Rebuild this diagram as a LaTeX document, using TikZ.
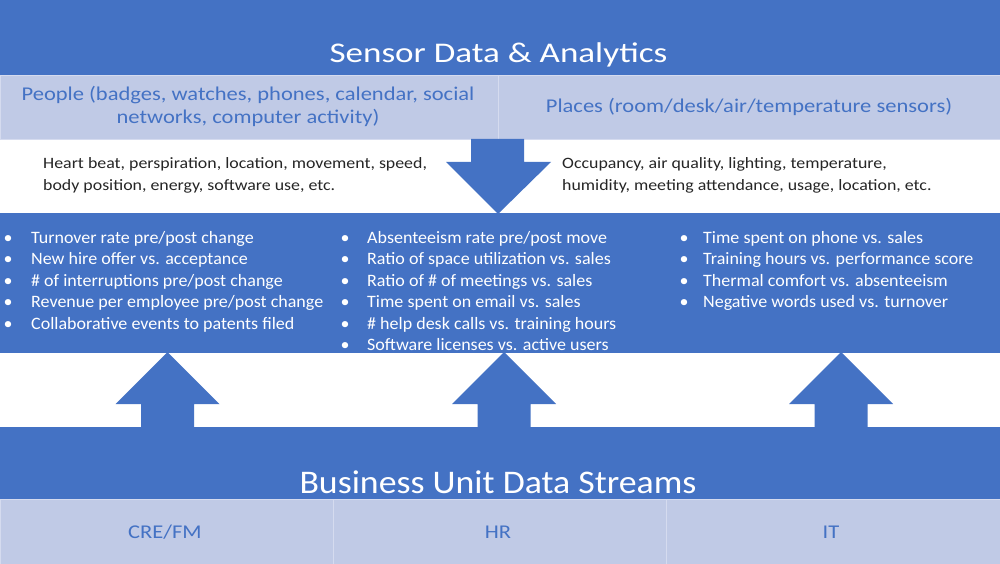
\documentclass[tikz,border=0pt]{standalone}
\usepackage{fontspec}
\setmainfont{Carlito}
\newfontfamily\fontTitle{Carlito}[FakeStretch=1.23]
\newfontfamily\fontBiz{Carlito}[FakeStretch=1.085]
\newfontfamily\fontBoxTxt{Carlito}[FakeStretch=1.155]
\newfontfamily\fontWhite{Carlito}[FakeStretch=1.13]
\newfontfamily\fontBullet{Carlito}[FakeStretch=1.035]
\definecolor{mainblue}{HTML}{4472C4}
\definecolor{lightblue}{HTML}{C0CAE6}
\definecolor{edgeblue}{HTML}{D5DBEF}
\definecolor{darktext}{HTML}{262626}
\begin{document}
\begin{tikzpicture}[x=1pt,y=-1pt,
  band/.style={fill=mainblue},
  lightbox/.style={fill=lightblue,draw=edgeblue,line width=0.8pt},
  blockarrow/.style={fill=mainblue},
  boxtext/.style={text=mainblue,font=\fontBoxTxt\fontsize{19.5}{23}\selectfont,inner sep=0pt},
  whitetext/.style={text=darktext,font=\fontWhite\fontsize{15.8}{22}\selectfont,inner sep=0pt,anchor=base west},
  bullettext/.style={text=white,font=\fontBullet\fontsize{17.4}{21.5}\selectfont,inner sep=0pt,anchor=base west},
  bulletmark/.style={text=white,font=\fontBullet\fontsize{17.4}{21.5}\selectfont,inner sep=0pt,anchor=base}
]
\useasboundingbox (0,0) rectangle (1000,564);
\fill[white] (0,0) rectangle (1000,564);
% bands
\fill[band] (0,0) rectangle (1000,75);
\fill[band] (0,213) rectangle (1000,353);
\fill[band] (0,427) rectangle (1000,499);
% light boxes top
\draw[lightbox] (0,75) rectangle (498,139);
\draw[lightbox] (498,75) rectangle (1000,139);
% light boxes bottom
\draw[lightbox] (0,499) rectangle (333,564);
\draw[lightbox] (333,499) rectangle (666,564);
\draw[lightbox] (666,499) rectangle (1000,564);
% down arrow
\fill[blockarrow] (471,139) -- (524,139) -- (524,162) -- (551,162) -- (498,214) -- (446,162) -- (471,162) -- cycle;
% up arrows
\foreach \c in {167.5,504,841}{
  \fill[blockarrow] (\c-26.5,428) -- (\c-26.5,404) -- (\c-52,404) -- (\c,352) -- (\c+52,404) -- (\c+26.5,404) -- (\c+26.5,428) -- cycle;
}
% titles
\node[text=white,inner sep=0pt,anchor=base,font=\fontTitle\fontsize{28.5}{34}\selectfont] (title) at (498.5,62.5)
  {Sensor Data \& Analytics};
\node[text=white,inner sep=0pt,anchor=base,font=\fontBiz\fontsize{33}{38}\selectfont] (btitle) at (498,493) {Business Unit Data Streams};
% top box texts
\node[boxtext,anchor=base] (people1) at (248,101) {People (badges, watches, phones, calendar, social};
\node[boxtext,anchor=base] (people2) at (248,124) {networks, computer activity)};
\node[boxtext,anchor=base] (places) at (749,113) {Places (room/desk/air/temperature sensors)};
% white texts
\node[whitetext] (heart1) at (43,168) {Heart beat, perspiration, location, movement, speed,};
\node[whitetext] (heart2) at (43,190) {body position, energy, software use, etc.};
\node[whitetext] (occ1) at (562,168) {Occupancy, air quality, lighting, temperature,};
\node[whitetext] (occ2) at (562,190) {humidity, meeting attendance, usage, location, etc.};
% bullets
\foreach \t [count=\i] in {{Turnover rate pre/post change},{New hire offer vs. acceptance},{\# of interruptions pre/post change},{Revenue per employee pre/post change},{Collaborative events to patents filed}}{
  \node[bulletmark] (ba\i) at (8,243+21.5*\i-21.5) {\textbullet};
  \node[bullettext] (ta\i) at (31,243+21.5*\i-21.5) {\t};
}
\foreach \t [count=\i] in {{Absenteeism rate pre/post move},{Ratio of space utilization vs. sales},{Ratio of \# of meetings vs. sales},{Time spent on email vs. sales},{\# help desk calls vs. training hours},{Software licenses vs. active users}}{
  \node[bulletmark] (bb\i) at (345,243+21.5*\i-21.5) {\textbullet};
  \node[bullettext] (tb\i) at (367,243+21.5*\i-21.5) {\t};
}
\foreach \t [count=\i] in {{Time spent on phone vs. sales},{Training hours vs. performance score},{Thermal comfort vs. absenteeism},{Negative words used vs. turnover}}{
  \node[bulletmark] (bc\i) at (684,243+21.5*\i-21.5) {\textbullet};
  \node[bullettext] (tc\i) at (703,243+21.5*\i-21.5) {\t};
}
% bottom labels
\node[boxtext,anchor=base] (cre) at (165,538) {CRE/FM};
\node[boxtext,anchor=base] (hr) at (498,538) {HR};
\node[boxtext,anchor=base] (it) at (831,538) {IT};
\end{tikzpicture}
\end{document}
